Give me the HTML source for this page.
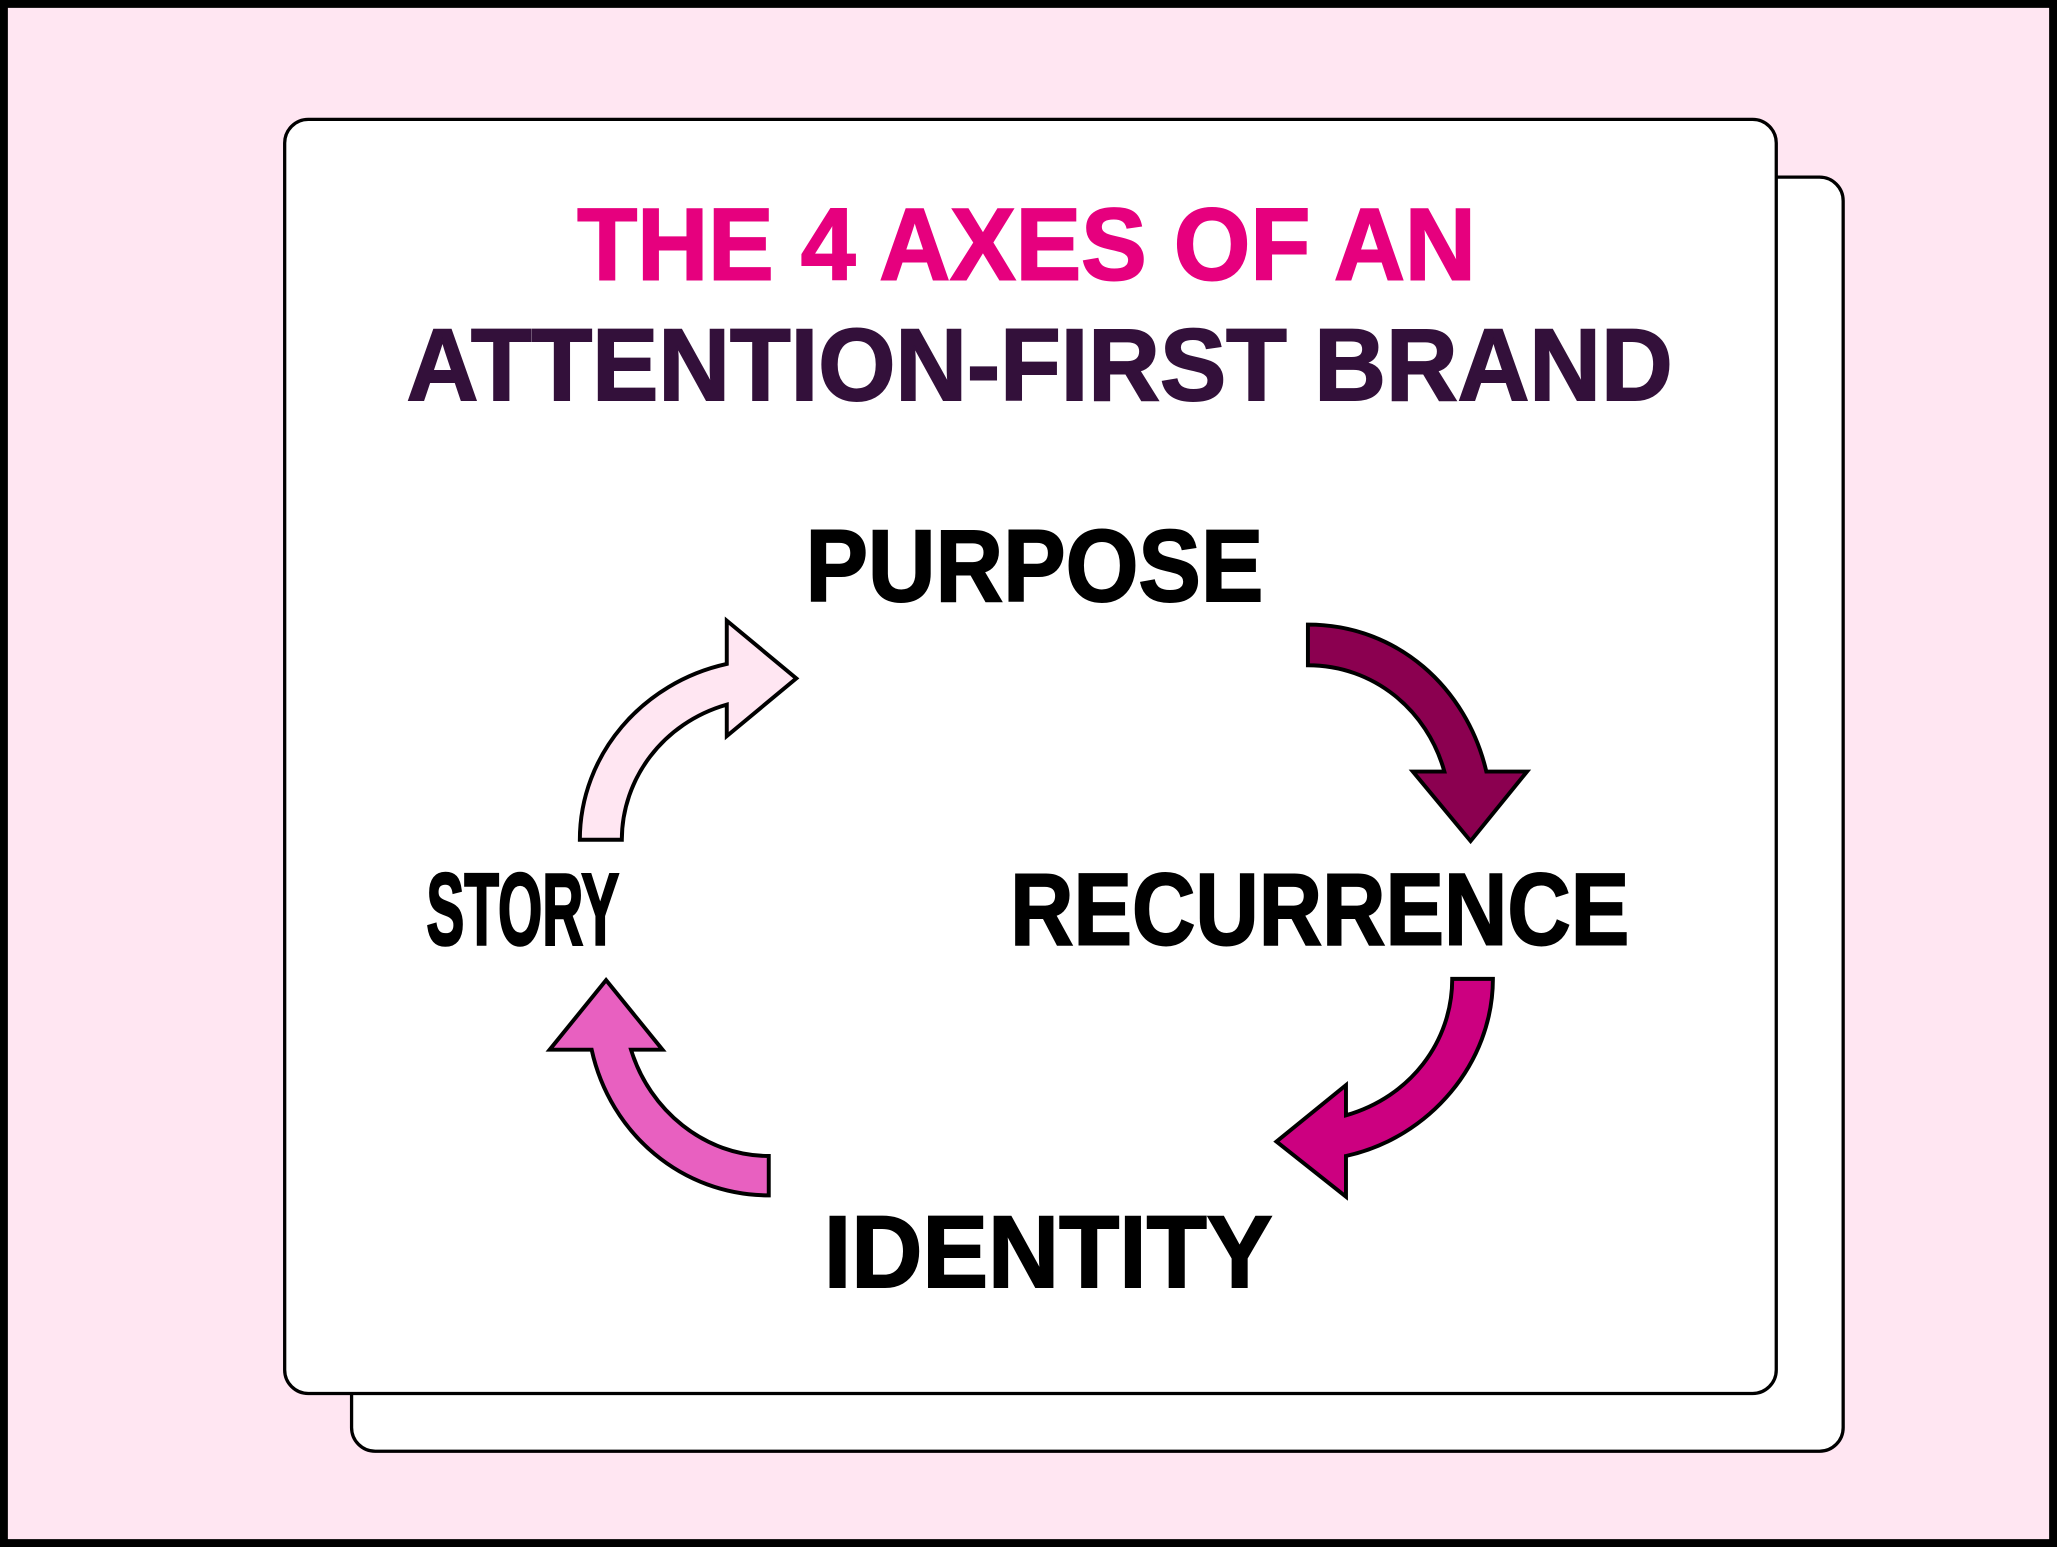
<!DOCTYPE html>
<html><head><meta charset="utf-8"><style>
html,body{margin:0;padding:0;background:#ffe6f2;}
svg{display:block;}
text{font-family:"Liberation Sans",sans-serif;font-weight:bold;}
</style></head><body>
<svg width="2057" height="1547" viewBox="0 0 1568 1179" xmlns="http://www.w3.org/2000/svg" preserveAspectRatio="none">
<rect x="3" y="3" width="1562" height="1173" fill="#ffe6f2" stroke="#000" stroke-width="6"/>
<rect x="268" y="135" width="1137" height="971" rx="18" fill="#fff" stroke="#000" stroke-width="2.5"/>
<rect x="217" y="91" width="1137" height="971" rx="18" fill="#fff" stroke="#000" stroke-width="2.5"/>
<text x="440" y="213" font-size="78" fill="#e6007e" stroke="#e6007e" stroke-width="1.5" textLength="685" lengthAdjust="spacingAndGlyphs">THE 4 AXES OF AN</text>
<text x="310" y="305" font-size="78" fill="#33103a" stroke="#33103a" stroke-width="1.5" textLength="965" lengthAdjust="spacingAndGlyphs">ATTENTION-FIRST BRAND</text>
<text x="614" y="458" font-size="78" fill="#000" stroke="#000" stroke-width="1.5" textLength="349" lengthAdjust="spacingAndGlyphs">PURPOSE</text>
<text x="325" y="720" font-size="78" fill="#000" stroke="#000" stroke-width="2" textLength="147" lengthAdjust="spacingAndGlyphs">STORY</text>
<text x="770" y="720" font-size="78" fill="#000" stroke="#000" stroke-width="1.5" textLength="472" lengthAdjust="spacingAndGlyphs">RECURRENCE</text>
<text x="628" y="981" font-size="78" fill="#000" stroke="#000" stroke-width="1.5" textLength="342" lengthAdjust="spacingAndGlyphs">IDENTITY</text>
<g stroke="#000" stroke-width="3" stroke-linejoin="miter">
<path d="M997,476 C1065,476 1118,524 1133,588 L1164,588 L1121,641 L1077,588 L1101,588 C1088,541 1047,507 997,507 Z" fill="#8b0050"/>
<path d="M1107,746 L1138,746 C1138,810 1090,867 1026,881 L1026,912 L973,870 L1026,827 L1026,850 C1075,836 1107,794 1107,746 Z" fill="#cc0080"/>
<path d="M586,911 C520,911 465,864 451,800 L419,800 L462,747 L505,800 L481,800 C495,846 537,881 586,881 Z" fill="#e860c0"/>
<path d="M442,640 C442,575 490,520 554,506 L554,473 L607,517 L554,561 L554,537 C505,551 474,594 474,640 Z" fill="#ffe6f2"/>
</g>
</svg>
</body></html>
